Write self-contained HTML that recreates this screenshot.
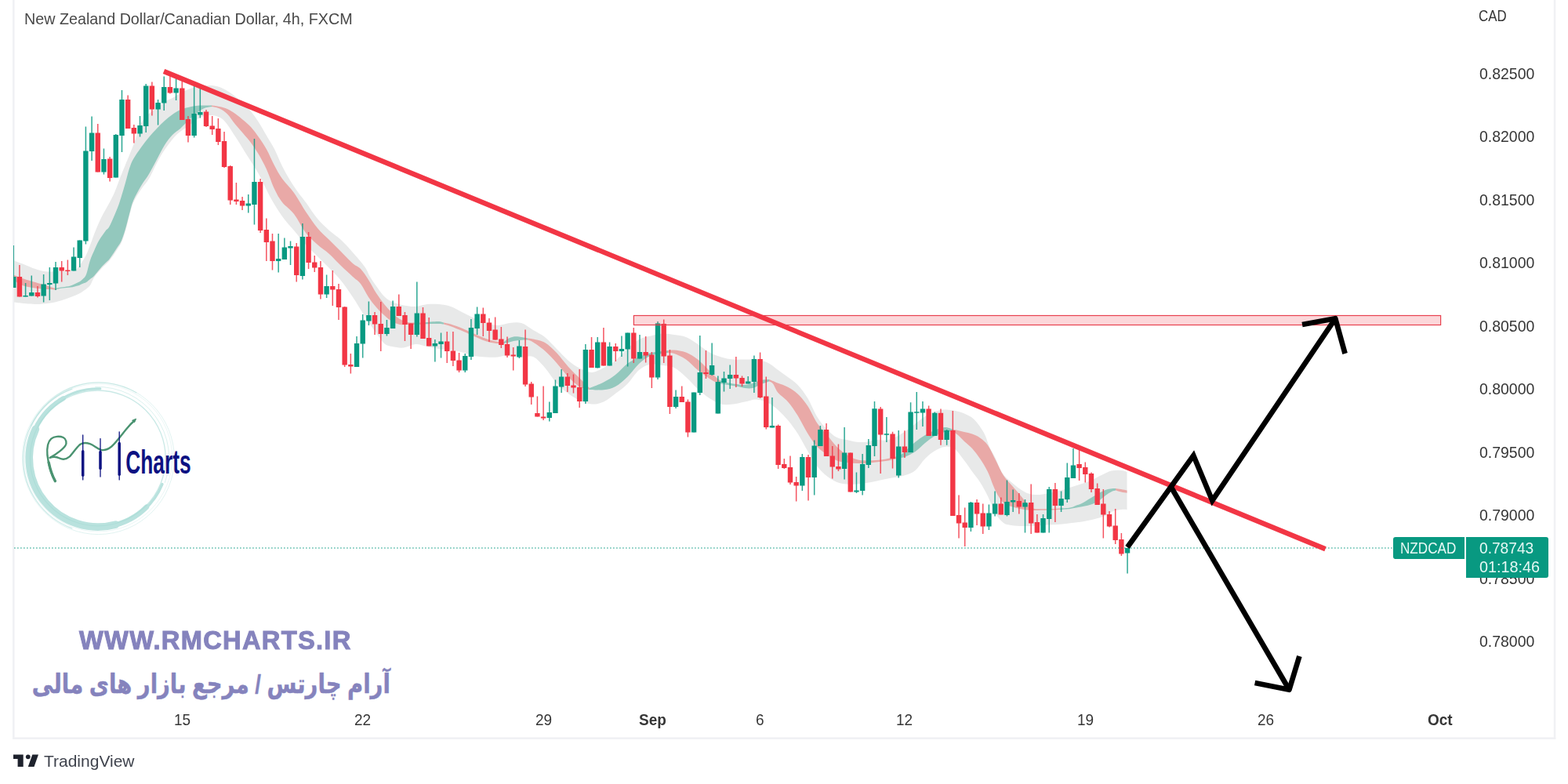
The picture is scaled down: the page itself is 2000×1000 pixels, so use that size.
<!DOCTYPE html>
<html lang="en"><head><meta charset="utf-8"><title>NZDCAD 4h chart</title>
<style>
html,body{margin:0;padding:0;background:#fff}
body{width:2000px;height:1000px;position:relative;overflow:hidden;font-family:"Liberation Sans",sans-serif}
svg{position:absolute;left:0;top:0;display:block}
.t{position:absolute;white-space:nowrap;line-height:1;margin:0;padding:0;transform-origin:0 50%}
.bx{position:absolute;background:#089981}
</style></head><body>
<svg width="2000" height="1000" viewBox="0 0 2000 1000">
<g id="frame" fill="#f0f1f4">
<rect x="16" y="0" width="2.6" height="942.6"/>
<rect x="1981.8" y="0" width="2.5" height="942.8"/>
<rect x="16" y="940.4" width="1968.3" height="2.6"/>
</g>
<g id="rmlogo">
<g fill="none" stroke="#a6dbd5" stroke-linecap="round">
<circle cx="124.8" cy="584.4" r="86.4" stroke-width="1.3" opacity=".6"/>
<g opacity=".78">
<path d="M147.47 669.02A87.6 87.6 0 0 1 45.41 547.38" stroke-width="9.6" opacity="1"/>
<path d="M187.03 646.63A88 88 0 0 1 140.08 671.06" stroke-width="6.4" opacity="1"/>
<path d="M42.11 554.3A88 88 0 0 1 80.8 508.19" stroke-width="6.0" opacity="1"/>
<path d="M206.95 617.59A88.6 88.6 0 0 1 184.08 650.24" stroke-width="3.4" opacity="1"/>
<path d="M75.26 510.95A88.6 88.6 0 0 1 127.89 495.85" stroke-width="3.0" opacity="1"/>
</g>
<path d="M91.94 673.89A94.6 94.6 0 0 1 91.94 496.11" stroke-width="1.2" opacity="0.6"/>
<path d="M121.62 493.46A91 91 0 0 1 210.31 615.52" stroke-width="1.0" opacity="0.4"/>
<circle cx="125.6" cy="583.8" r="94.2" stroke-width=".8" opacity=".3"/>
<circle cx="125.4" cy="584.6" r="97" stroke-width=".9" opacity=".38"/>
<path d="M39.45 543.14A95.5 95.5 0 0 1 173.75 500.79" stroke-width="1.2" opacity="0.5"/>
</g>
<path d="M70.3 613.5C66 606 62 594 60.4 580.5C59.6 571 61.5 563 65.3 559.6C69 556.6 76 556 80.7 558C84.6 560 85.5 565 83.4 568.4C81 572 73 579 63.6 583.8C67 582.6 72 582.5 76 584.5C80 586.6 84.5 586 88.4 582.7C92 579.5 96 572.5 101.6 567.3C105 564.5 110 564.6 114.8 566.2C120 568 124 572.5 129.1 573.9C134 574.8 138.5 572.6 142.3 569.5C148 564.5 156 553.5 161 547.5C165 542.5 169 538.5 172 536" fill="none" stroke="#4a9371" stroke-width="2.4" stroke-linecap="round" stroke-linejoin="round"/>
<path d="M70.4 613.6C67 607.5 64 599 62.2 590" fill="none" stroke="#4a9371" stroke-width="3.4" stroke-linecap="round"/>
<path d="M173.6 534.2L168.6 536.2L171.4 539Z" fill="#4a9371" stroke="#4a9371" stroke-width="1" stroke-linejoin="round"/>
<g stroke="#0d1282" stroke-linecap="round">
<line x1="105.7" y1="555" x2="105.7" y2="611.9" stroke-width="1.3"/>
<line x1="105.7" y1="575.8" x2="105.7" y2="606.2" stroke-width="3.5"/>
<line x1="128" y1="559.6" x2="128" y2="608" stroke-width="1.3"/>
<line x1="128" y1="576.4" x2="128" y2="597.4" stroke-width="3.5"/>
<line x1="152.2" y1="550.8" x2="152.2" y2="611.9" stroke-width="1.3"/>
<line x1="152.2" y1="565.4" x2="152.2" y2="605.2" stroke-width="3.5"/>
</g>
<text x="160.3" y="603.9" font-family="'Liberation Sans',sans-serif" font-weight="700" font-size="43" fill="#0d1282" textLength="83.3" lengthAdjust="spacingAndGlyphs">Charts</text>
</g>
<defs><filter id="bl" x="-2%" y="-5%" width="104%" height="110%"><feGaussianBlur stdDeviation="0.7"/></filter></defs>
<g id="ribbon" filter="url(#bl)">
<path d="M18 332.5C20 333.25 25.5 335.25 30 337C34.5 338.75 40 341.42 45 343C50 344.58 55 346 60 346.5C65 347 70 346.08 75 346C80 345.92 86.5 346.25 90 346C93.5 345.75 94 345.83 96 344.5C98 343.17 99.67 341.25 102 338C104.33 334.75 107.67 329.67 110 325C112.33 320.33 114.33 314.33 116 310C117.67 305.67 118 304 120 299C122 294 125.33 285.67 128 280C130.67 274.33 133.17 270.33 136 265C138.83 259.67 142.33 253.83 145 248C147.67 242.17 149.5 236.33 152 230C154.5 223.67 157.83 215.33 160 210C162.17 204.67 163 203 165 198C167 193 169.5 186.83 172 180C174.5 173.17 177 162.83 180 157C183 151.17 186.67 148.17 190 145C193.33 141.83 196.67 140.5 200 138C203.33 135.5 206.67 132.17 210 130C213.33 127.83 216.67 126.83 220 125C223.33 123.17 226.67 120.83 230 119C233.33 117.17 236.67 115.33 240 114C243.33 112.67 246.67 111.75 250 111C253.33 110.25 256.67 109.83 260 109.5C263.33 109.17 266.67 108.75 270 109C273.33 109.25 276.67 109.83 280 111C283.33 112.17 286.67 114 290 116C293.33 118 296.67 120.33 300 123C303.33 125.67 306.67 128.83 310 132C313.33 135.17 316.67 138 320 142C323.33 146 326.67 150.83 330 156C333.33 161.17 336.67 167.33 340 173C343.33 178.67 346.67 183.5 350 190C353.33 196.5 356.67 205.33 360 212C363.33 218.67 366.67 224.5 370 230C373.33 235.5 376.67 240.33 380 245C383.33 249.67 385.83 252.33 390 258C394.17 263.67 400 273 405 279C410 285 415 289.5 420 294C425 298.5 430 301.33 435 306C440 310.67 445 316.33 450 322C455 327.67 461.33 334.83 465 340C468.67 345.17 469.5 348.83 472 353C474.5 357.17 477 360.83 480 365C483 369.17 486.67 374.67 490 378C493.33 381.33 495.83 383.08 500 385C504.17 386.92 510 388.5 515 389.5C520 390.5 525 391.25 530 391C535 390.75 540 388.5 545 388C550 387.5 555 387.5 560 388C565 388.5 570 389.25 575 391C580 392.75 585 396 590 398.5C595 401 600 403.75 605 406C610 408.25 615 410.5 620 412C625 413.5 630 415 635 415C640 415 645 412.5 650 412C655 411.5 660 410.5 665 412C670 413.5 675 418 680 421C685 424 690 426 695 430C700 434 705 440 710 445C715 450 720 455.83 725 460C730 464.17 735 467.5 740 470C745 472.5 750 475.17 755 475C760 474.83 765 471.5 770 469C775 466.5 780 464 785 460C790 456 795 449.5 800 445C805 440.5 810 435.75 815 433C820 430.25 825 429.75 830 428.5C835 427.25 840 425.75 845 425.5C850 425.25 855 426.25 860 427C865 427.75 870 428 875 430C880 432 885 435.75 890 439C895 442.25 900 446.75 905 449.5C910 452.25 915 454 920 455.5C925 457 930 458 935 458.5C940 459 945 458.5 950 458.5C955 458.5 960 457.75 965 458.5C970 459.25 975.42 460.75 980 463C984.58 465.25 988.33 469 992.5 472C996.67 475 1000.83 477.83 1005 481C1009.17 484.17 1013.33 486.58 1017.5 491C1021.67 495.42 1025.83 500.67 1030 507.5C1034.17 514.33 1038.33 525.25 1042.5 532C1046.67 538.75 1050.83 543.67 1055 548C1059.17 552.33 1063.33 555.83 1067.5 558C1071.67 560.17 1075.83 560.04 1080 561C1084.17 561.96 1088.33 563.29 1092.5 563.75C1096.67 564.21 1100.83 564.21 1105 563.75C1109.17 563.29 1113.33 561.38 1117.5 561C1121.67 560.62 1125.83 562.08 1130 561.5C1134.17 560.92 1138.33 559.42 1142.5 557.5C1146.67 555.58 1150.83 552.83 1155 550C1159.17 547.17 1163.33 543.67 1167.5 540.5C1171.67 537.33 1175.83 533.58 1180 531C1184.17 528.42 1188.33 526.42 1192.5 525C1196.67 523.58 1200.83 522.71 1205 522.5C1209.17 522.29 1213.33 522.92 1217.5 523.75C1221.67 524.58 1225.83 525.62 1230 527.5C1234.17 529.38 1238.33 530.92 1242.5 535C1246.67 539.08 1251.75 546.17 1255 552C1258.25 557.83 1259.5 564.5 1262 570C1264.5 575.5 1267.33 579.5 1270 585C1272.67 590.5 1274.67 598 1278 603C1281.33 608 1286.33 611.67 1290 615C1293.67 618.33 1296.67 620.67 1300 623C1303.33 625.33 1306.67 627.67 1310 629C1313.33 630.33 1316.67 630.75 1320 631C1323.33 631.25 1326.25 631 1330 630.5C1333.75 630 1338.33 628.92 1342.5 628C1346.67 627.08 1350.83 626.17 1355 625C1359.17 623.83 1363.33 622.33 1367.5 621C1371.67 619.67 1375.83 618.42 1380 617C1384.17 615.58 1388.33 614.33 1392.5 612.5C1396.67 610.67 1400.83 608 1405 606C1409.17 604 1413.33 601.5 1417.5 600.5C1421.67 599.5 1426.67 599.75 1430 600C1433.33 600.25 1436.25 601.67 1437.5 602L1437.5 650C1436.25 650 1432.92 649.67 1430 650C1427.08 650.33 1422.83 651 1420 652C1417.17 653 1415.5 654.75 1413 656C1410.5 657.25 1408.42 658.33 1405 659.5C1401.58 660.67 1396.67 662 1392.5 663C1388.33 664 1384.17 664.83 1380 665.5C1375.83 666.17 1371.67 666.5 1367.5 667C1363.33 667.5 1359.17 668.12 1355 668.5C1350.83 668.88 1346.67 669.05 1342.5 669.3C1338.33 669.55 1334.17 669.75 1330 670C1325.83 670.25 1321.67 670.63 1317.5 670.8C1313.33 670.97 1309.58 671.13 1305 671C1300.42 670.87 1294.17 670.67 1290 670C1285.83 669.33 1283.33 669.5 1280 667C1276.67 664.5 1273.33 660.67 1270 655C1266.67 649.33 1263.33 639.67 1260 633C1256.67 626.33 1253.33 620.25 1250 615C1246.67 609.75 1243.33 606.08 1240 601.5C1236.67 596.92 1233.75 592.33 1230 587.5C1226.25 582.67 1221.67 575.42 1217.5 572.5C1213.33 569.58 1209.17 569.58 1205 570C1200.83 570.42 1196.67 572.5 1192.5 575C1188.33 577.5 1184.17 580.83 1180 585C1175.83 589.17 1171.67 596.5 1167.5 600C1163.33 603.5 1159.17 604.54 1155 606C1150.83 607.46 1146.67 607.92 1142.5 608.75C1138.33 609.58 1134.17 610.17 1130 611C1125.83 611.83 1121.67 612.92 1117.5 613.75C1113.33 614.58 1109.17 615.38 1105 616C1100.83 616.62 1096.67 617.25 1092.5 617.5C1088.33 617.75 1084.17 617.92 1080 617.5C1075.83 617.08 1071.67 616.67 1067.5 615C1063.33 613.33 1059.17 610.83 1055 607.5C1050.83 604.17 1046.67 600.42 1042.5 595C1038.33 589.58 1034.17 582 1030 575C1025.83 568 1021.67 559.5 1017.5 553C1013.33 546.5 1009.17 541 1005 536C1000.83 531 996.67 526.67 992.5 523C988.33 519.33 984.58 516.25 980 514C975.42 511.75 970 509.75 965 509.5C960 509.25 955 511.5 950 512.5C945 513.5 940 515 935 515.5C930 516 925 516.75 920 515.5C915 514.25 910 511.25 905 508C900 504.75 895 500.5 890 496C885 491.5 880 485.5 875 481C870 476.5 865 471.5 860 469C855 466.5 850 466.75 845 466C840 465.25 835 463.5 830 464.5C825 465.5 820 467.75 815 472C810 476.25 805 485 800 490C795 495 790 498.25 785 502C780 505.75 775 510.25 770 512.5C765 514.75 760 515.75 755 515.5C750 515.25 745 513.25 740 511C735 508.75 730 505.67 725 502C720 498.33 715 494.5 710 489C705 483.5 700 474.67 695 469C690 463.33 685 457.25 680 455C675 452.75 670 455.92 665 455.5C660 455.08 655 452.5 650 452.5C645 452.5 640 455 635 455.5C630 456 625 455.75 620 455.5C615 455.25 610 455 605 454C600 453 595 450.75 590 449.5C585 448.25 580 447.25 575 446.5C570 445.75 565 445.75 560 445C555 444.25 550 443 545 442C540 441 535 438.75 530 439C525 439.25 520 443 515 443.5C510 444 504.17 442.92 500 442C495.83 441.08 493.33 440.83 490 438C486.67 435.17 484.17 430.83 480 425C475.83 419.17 470 410.67 465 403C460 395.33 455 386.5 450 379C445 371.5 440 364.17 435 358C430 351.83 425 347.17 420 342C415 336.83 410 332 405 327C400 322 395 317.5 390 312C385 306.5 380 300 375 294C370 288 365 283 360 276C355 269 350 261 345 252C340 243 335 231 330 222C325 213 320 206 315 198C310 190 305 181.5 300 174C295 166.5 290 157.5 285 153C280 148.5 275 147.5 270 147C265 146.5 260 147.67 255 150C250 152.33 245 157.33 240 161C235 164.67 230 167 225 172C220 177 214.17 185 210 191C205.83 197 203.33 201.83 200 208C196.67 214.17 193.33 222.42 190 228C186.67 233.58 183.33 236.42 180 241.5C176.67 246.58 172.5 252.83 170 258.5C167.5 264.17 166.67 269.5 165 275.5C163.33 281.5 161.67 288.92 160 294.5C158.33 300.08 156.67 305.17 155 309C153.33 312.83 152.5 313.67 150 317.5C147.5 321.33 143.33 327.92 140 332C136.67 336.08 133.33 338.33 130 342C126.67 345.67 122.5 350.33 120 354C117.5 357.67 117 361.33 115 364C113 366.67 110.5 368.17 108 370C105.5 371.83 103.83 373.17 100 375C96.17 376.83 90 379.25 85 381C80 382.75 75 384.42 70 385.5C65 386.58 59.17 387.08 55 387.5C50.83 387.92 49.17 388.08 45 388C40.83 387.92 34.5 387.42 30 387C25.5 386.58 20 385.75 18 385.5Z" fill="#e8e9e9"/>
<path d="M18 351C20 351.75 25.5 354 30 355.5C34.5 357 40 358.5 45 360C50 361.5 55.5 363.08 60 364.5C64.5 365.92 70 367.83 72 368.5L72 369.5C70 369.42 64.5 369.33 60 369C55.5 368.67 50 368.25 45 367.5C40 366.75 34.5 366.08 30 364.5C25.5 362.92 20 359.08 18 358Z" fill="#e9a9a7"/>
<path d="M72 367.5C73.33 367.3 77 366.8 80 366.3C83 365.8 86.67 365.55 90 364.5C93.33 363.45 97.5 361.33 100 360C102.5 358.67 103.33 358.17 105 356.5C106.67 354.83 108.33 354.08 110 350C111.67 345.92 113.33 337 115 332C116.67 327 118.33 323.83 120 320C121.67 316.17 123.33 312.17 125 309C126.67 305.83 128.33 303.5 130 301C131.67 298.5 133.33 296.17 135 294C136.67 291.83 137.5 292.83 140 288C142.5 283.17 147.5 271.33 150 265C152.5 258.67 153.33 255.33 155 250C156.67 244.67 158.33 238.83 160 233C161.67 227.17 163.33 220 165 215C166.67 210 167.5 207.5 170 203C172.5 198.5 176.67 192.67 180 188C183.33 183.33 186.67 179 190 175C193.33 171 196.67 167.5 200 164C203.33 160.5 206.67 157 210 154C213.33 151 216.67 148.33 220 146C223.33 143.67 226.67 141.5 230 140C233.33 138.5 236.67 137.83 240 137C243.33 136.17 246.67 135.42 250 135C253.33 134.58 256.67 134.57 260 134.5C263.33 134.43 268.33 134.58 270 134.6L270 136C268.33 136.38 263.33 136.8 260 138.3C256.67 139.8 253.33 142.38 250 145C246.67 147.62 243.33 150.83 240 154C236.67 157.17 233.33 161 230 164C226.67 167 223.33 168.5 220 172C216.67 175.5 213.33 179.75 210 185C206.67 190.25 203.33 197.33 200 203.5C196.67 209.67 193.33 216.42 190 222C186.67 227.58 183.33 231.33 180 237C176.67 242.67 172.5 250 170 256C167.5 262 166.67 267 165 273C163.33 279 161.67 286.38 160 292C158.33 297.62 156.67 302.87 155 306.7C153.33 310.53 152.5 311.12 150 315C147.5 318.88 142.5 326.67 140 330C137.5 333.33 136.67 333.33 135 335C133.33 336.67 131.67 338.17 130 340C128.33 341.83 126.67 344 125 346C123.33 348 121.67 350.33 120 352C118.33 353.67 116.67 354.67 115 356C113.33 357.33 111.67 359 110 360C108.33 361 106.67 361.3 105 362C103.33 362.7 102.5 363.43 100 364.2C97.5 364.97 93.33 366.03 90 366.6C86.67 367.17 83 367.2 80 367.6C77 368 73.33 368.77 72 369Z" fill="#93c8bd"/>
<path d="M270 134.6C271.67 134.83 276.67 135.27 280 136C283.33 136.73 286.67 137.5 290 139C293.33 140.5 296.67 142.67 300 145C303.33 147.33 306.67 150.17 310 153C313.33 155.83 316.67 158.33 320 162C323.33 165.67 326.67 170.25 330 175C333.33 179.75 336.67 184.5 340 190.5C343.33 196.5 346.67 204.75 350 211C353.33 217.25 355.83 222.17 360 228C364.17 233.83 370 239 375 246C380 253 385 262.5 390 270C395 277.5 400 285 405 291C410 297 415 301 420 306C425 311 430 316 435 321C440 326 445.83 332.33 450 336C454.17 339.67 456.67 339.5 460 343C463.33 346.5 466.67 351.83 470 357C473.33 362.17 476.67 368.83 480 374C483.33 379.17 486.67 383.83 490 388C493.33 392.17 496.67 395.83 500 399C503.33 402.17 506.67 405 510 407C513.33 409 516.67 410.25 520 411C523.33 411.75 526.67 411.42 530 411.5C533.33 411.58 538.33 411.5 540 411.5L540 413.5C538.33 413.58 533.33 413.92 530 414C526.67 414.08 523.33 414 520 414C516.67 414 513.33 414.67 510 414C506.67 413.33 503.33 412 500 410C496.67 408 493.33 405 490 402C486.67 399 483.33 395.83 480 392C476.67 388.17 473.33 384 470 379C466.67 374 463.33 366.33 460 362C456.67 357.67 454.17 356.83 450 353C445.83 349.17 440 343.83 435 339C430 334.17 425 328.5 420 324C415 319.5 410 316.5 405 312C400 307.5 395 303.5 390 297C385 290.5 380 279.5 375 273C370 266.5 364.17 263.33 360 258C355.83 252.67 353.33 248 350 241C346.67 234 343.33 223.33 340 216C336.67 208.67 333.33 202.67 330 197C326.67 191.33 323.33 186.5 320 182C316.67 177.5 313.33 173.92 310 170C306.67 166.08 303.33 162.58 300 158.5C296.67 154.42 293.33 148.83 290 145.5C286.67 142.17 283.33 140.08 280 138.5C276.67 136.92 271.67 136.42 270 136Z" fill="#e9a9a7"/>
<path d="M540 411.5C541.67 411.33 546.67 410.75 550 410.5C553.33 410.25 557.33 409.83 560 410C562.67 410.17 565 411.25 566 411.5L566 413.5C565 413.42 562.67 413.08 560 413C557.33 412.92 553.33 412.92 550 413C546.67 413.08 541.67 413.42 540 413.5Z" fill="#93c8bd"/>
<path d="M566 411.5C567.5 411.83 571 412.25 575 413.5C579 414.75 585.83 417.33 590 419C594.17 420.67 596.67 422 600 423.5C603.33 425 606.67 426.58 610 428C613.33 429.42 616.67 430.83 620 432C623.33 433.17 626.67 434.25 630 435C633.33 435.75 637.83 436.33 640 436.5C642.17 436.67 642.5 436.08 643 436L643 438C642.5 438.1 642.17 438.67 640 438.6C637.83 438.53 633.33 438.17 630 437.6C626.67 437.03 623.33 436.27 620 435.2C616.67 434.13 613.33 432.62 610 431.2C606.67 429.78 603.33 428.2 600 426.7C596.67 425.2 594.17 423.95 590 422.2C585.83 420.45 579 417.65 575 416.2C571 414.75 567.5 413.95 566 413.5Z" fill="#e9a9a7"/>
<path d="M643 436C643.83 435.33 646 433.08 648 432C650 430.92 652.67 429.92 655 429.5C657.33 429.08 659.83 429.33 662 429.5C664.17 429.67 666.17 430.17 668 430.5C669.83 430.83 672.17 431.33 673 431.5L673 433.5C672.17 433.5 669.83 433.42 668 433.5C666.17 433.58 664.17 433.75 662 434C659.83 434.25 657.33 434.5 655 435C652.67 435.5 650 436.5 648 437C646 437.5 643.83 437.83 643 438Z" fill="#93c8bd"/>
<path d="M673 431.5C674.17 431.67 676.33 431.58 680 432.5C683.67 433.42 690 434.08 695 437C700 439.92 705 444.83 710 450C715 455.17 720 462.5 725 468C730 473.5 735.5 478.5 740 483C744.5 487.5 750 493 752 495L752 497C750 496.42 744.5 496.17 740 493.5C735.5 490.83 730 486.08 725 481C720 475.92 715 468.58 710 463C705 457.42 700 451.92 695 447.5C690 443.08 683.67 438.83 680 436.5C676.33 434.17 674.17 434 673 433.5Z" fill="#e9a9a7"/>
<path d="M752 495C755 493.75 764.5 490.33 770 487.5C775.5 484.67 780 481.92 785 478C790 474.08 795 467.75 800 464C805 460.25 810 457.83 815 455.5C820 453.17 825 451.25 830 450C835 448.75 841.33 448.5 845 448C848.67 447.5 850.83 447.17 852 447L852 450C850.83 450.17 848.67 450.42 845 451C841.33 451.58 835 451.33 830 453.5C825 455.67 820 459.42 815 464C810 468.58 805 476.17 800 481C795 485.83 790 490.28 785 493C780 495.72 775.5 496.63 770 497.3C764.5 497.97 755 497.05 752 497Z" fill="#93c8bd"/>
<path d="M852 447C853.33 446.92 856.17 446.08 860 446.5C863.83 446.92 870 447.5 875 449.5C880 451.5 885 454.58 890 458.5C895 462.42 901.33 469.42 905 473C908.67 476.58 909.83 478 912 480C914.17 482 917 484.17 918 485L918 489C917 488.67 914.17 488 912 487C909.83 486 908.67 485.5 905 483C901.33 480.5 895 476.08 890 472C885 467.92 880 462 875 458.5C870 455 863.83 452.42 860 451C856.17 449.58 853.33 450.17 852 450Z" fill="#e9a9a7"/>
<path d="M918 485C920 485.58 926.33 487.67 930 488.5C933.67 489.33 936.67 489.58 940 490C943.33 490.42 946.67 491.17 950 491C953.33 490.83 956.67 490 960 489C963.33 488 966.5 485.83 970 485C973.5 484.17 979.17 484.17 981 484L981 486.5C979.17 487.17 973.5 489.08 970 490.5C966.5 491.92 963.33 494.25 960 495C956.67 495.75 953.33 495.37 950 495C946.67 494.63 943.33 493.43 940 492.8C936.67 492.17 933.67 491.83 930 491.2C926.33 490.57 920 489.37 918 489Z" fill="#93c8bd"/>
<path d="M981 484C981.83 484.33 984.08 485.21 986 486C987.92 486.79 989.33 487.46 992.5 488.75C995.67 490.04 1000.83 491.46 1005 493.75C1009.17 496.04 1013.33 498.54 1017.5 502.5C1021.67 506.46 1025.83 511.25 1030 517.5C1034.17 523.75 1038.33 533.75 1042.5 540C1046.67 546.25 1050.83 550 1055 555C1059.17 560 1063.33 565.83 1067.5 570C1071.67 574.17 1075.83 577.33 1080 580C1084.17 582.67 1088.33 584.75 1092.5 586C1096.67 587.25 1100.83 587.33 1105 587.5C1109.17 587.67 1113.33 587.33 1117.5 587C1121.67 586.67 1125.83 586.25 1130 585.5C1134.17 584.75 1139.5 583.25 1142.5 582.5C1145.5 581.75 1147.08 581.25 1148 581L1148 584C1147.08 584.25 1145.5 584.83 1142.5 585.5C1139.5 586.17 1134.17 587.33 1130 588C1125.83 588.67 1121.67 589 1117.5 589.5C1113.33 590 1109.17 590.75 1105 591C1100.83 591.25 1096.67 591.17 1092.5 591C1088.33 590.83 1084.17 590.58 1080 590C1075.83 589.42 1071.67 589.17 1067.5 587.5C1063.33 585.83 1059.17 582.92 1055 580C1050.83 577.08 1046.67 574.58 1042.5 570C1038.33 565.42 1034.17 559.17 1030 552.5C1025.83 545.83 1021.67 536.67 1017.5 530C1013.33 523.33 1009.17 517.33 1005 512.5C1000.83 507.67 995.67 504.83 992.5 501C989.33 497.17 987.92 491.92 986 489.5C984.08 487.08 981.83 487 981 486.5Z" fill="#e9a9a7"/>
<path d="M1148 581C1149.17 580 1151.75 577.88 1155 575C1158.25 572.12 1163.33 567.08 1167.5 563.75C1171.67 560.42 1175.83 557.5 1180 555C1184.17 552.5 1188.33 550.42 1192.5 548.75C1196.67 547.08 1201.25 545.21 1205 545C1208.75 544.79 1213.33 547.08 1215 547.5L1215 550C1213.33 550.17 1208.75 550 1205 551C1201.25 552 1196.67 553.67 1192.5 556C1188.33 558.33 1184.17 561.67 1180 565C1175.83 568.33 1171.67 573.08 1167.5 576C1163.33 578.92 1158.25 581.17 1155 582.5C1151.75 583.83 1149.17 583.75 1148 584Z" fill="#93c8bd"/>
<path d="M1215 547.5C1216.17 547.75 1219.5 548.42 1222 549C1224.5 549.58 1227 550.25 1230 551C1233 551.75 1236.67 552.25 1240 553.5C1243.33 554.75 1246.67 556.08 1250 558.5C1253.33 560.92 1256.67 563.25 1260 568C1263.33 572.75 1266.67 580.58 1270 587C1273.33 593.42 1276.67 601.25 1280 606.5C1283.33 611.75 1286.67 614.58 1290 618.5C1293.33 622.42 1296.67 626.08 1300 630C1303.33 633.92 1307 638.92 1310 642C1313 645.08 1314.67 647.28 1318 648.5C1321.33 649.72 1325.92 649.22 1330 649.3C1334.08 649.38 1338.83 649.13 1342.5 649C1346.17 648.87 1350.42 648.58 1352 648.5L1352 650C1350.42 650.07 1346.17 650.27 1342.5 650.4C1338.83 650.53 1334.08 650.7 1330 650.8C1325.92 650.9 1321.33 651.05 1318 651C1314.67 650.95 1313 650.88 1310 650.5C1307 650.12 1303.33 649.45 1300 648.7C1296.67 647.95 1293.33 647.2 1290 646C1286.67 644.8 1283.33 644.75 1280 641.5C1276.67 638.25 1273.33 633.08 1270 626.5C1266.67 619.92 1263.33 608.92 1260 602C1256.67 595.08 1253.33 590 1250 585C1246.67 580 1243.33 575.67 1240 572C1236.67 568.33 1233 565.83 1230 563C1227 560.17 1224.5 557.17 1222 555C1219.5 552.83 1216.17 550.83 1215 550Z" fill="#e9a9a7"/>
<path d="M1352 648.5C1354.17 648.33 1361.67 648.08 1365 647.5C1368.33 646.92 1369.5 645.92 1372 645C1374.5 644.08 1377 643.5 1380 642C1383 640.5 1386.67 638 1390 636C1393.33 634 1396.67 631.83 1400 630C1403.33 628.17 1407 626.13 1410 625C1413 623.87 1415.83 623.53 1418 623.2C1420.17 622.87 1422.17 623.03 1423 623L1423 625.5C1422.17 625.75 1420.17 625.92 1418 627C1415.83 628.08 1413 629.83 1410 632C1407 634.17 1403.33 638 1400 640C1396.67 642 1393.33 642.97 1390 644C1386.67 645.03 1383 645.57 1380 646.2C1377 646.83 1374.5 647.35 1372 647.8C1369.5 648.25 1368.33 648.53 1365 648.9C1361.67 649.27 1354.17 649.82 1352 650Z" fill="#93c8bd"/>
<path d="M1423 623C1424.17 623.17 1427.58 623.58 1430 624C1432.42 624.42 1436.25 625.25 1437.5 625.5L1437.5 628.75C1436.25 628.54 1432.42 628.04 1430 627.5C1427.58 626.96 1424.17 625.83 1423 625.5Z" fill="#e9a9a7"/>
</g>
<defs><clipPath id="cl"><rect x="17" y="0" width="1964" height="940"/></clipPath></defs>
<g id="candles" clip-path="url(#cl)">
<path d="M17.24 313V367M32.6 361V378.6M40.28 351.6V377.6M55.64 350V385.6M63.32 341V383M71 334V370M94.04 315.6V345.6M101.72 306.4V341M109.4 161.6V311.6M117.08 148.4V205M132.44 189.6V222.4M147.8 171V226.4M155.48 115V194M178.52 148V174.4M186.2 107V169M201.56 127V159.6M209.24 97.6V141M224.6 100V128M247.64 110V175.6M255.32 113V150.4M316.76 248V271.6M324.44 177V286.4M355.16 298V347.6M362.84 303.6V331M370.52 307.6V338M385.88 285V356.4M416.6 350.4V380M455 429V468M462.68 401V456.4M470.36 384.4V415M493.4 408V428.4M501.08 383.6V419M531.8 359.6V429.6M554.84 433V461.6M562.52 424.4V456.4M593.24 451V475M600.92 407V459M608.6 391.6V427M662.36 434V457M700.76 512.4V537.6M708.44 484.4V527M716.12 471V501M746.84 439V515M762.2 430V469.6M777.56 436.5V466.4M792.92 428.4V455M800.6 424.4V467.6M815.96 427V457.6M839 410V484M862.04 497.6V521M885.08 500.4V551.6M892.76 428V504M908.12 437.6V479M915.8 479.6V527.6M923.48 474V499.6M931.16 465.6V496M954.2 480V489.4M961.88 453.6V501M984.92 507V545.6M1023.32 579V626M1038.68 561.6V631.6M1046.36 543V569M1077.08 545V611.6M1092.44 602.4V629M1100.12 579V631.6M1107.8 560V597M1115.48 512V582M1130.84 532V564M1146.2 549V609.6M1161.56 513.3V577M1169.24 500V548M1176.92 512V544M1192.28 525.6V556M1207.64 548V567.8M1238.36 640V678M1261.4 643.6V676M1269.08 626.4V658.4M1284.44 612.4V658.4M1292.12 624.4V653M1307.48 637V679.6M1330.52 656V679.6M1338.2 621V679.6M1353.56 626.4V653M1361.24 590.4V641M1368.92 572V610M1438.04 699V731.6" stroke="#089981" stroke-width="1.5" fill="none" opacity=".85"/>
<path d="M24.92 338V378.6M47.96 365V379.6M78.68 333V359.6M86.36 331.6V351M124.76 158V219.6M140.12 200V231.6M163.16 121.6V164M170.84 159V182.4M193.88 104.4V147.6M216.92 96V119.6M232.28 103.6V153M239.96 148V181.6M263 140V162M270.68 148V172M278.36 151V185M286.04 168V214M293.72 211V261M301.4 233V261M309.08 251V268M332.12 228V297M339.8 278.4V333M347.48 298V344.4M378.2 310V359.6M393.56 296V343M401.24 326V347M408.92 333V381.6M424.28 345V390M431.96 362V408M439.64 391V468M447.32 451V476.4M478.04 398V427M485.72 385V448M508.76 375.6V403M516.44 398V435M524.12 412.4V445M539.48 392V432M547.16 405V441.6M570.2 423V463M577.88 423V467M585.56 450V475M616.28 392.4V429M623.96 406V436M631.64 404.4V433.6M639.32 417V444M647 429.6V456M654.68 443V472.4M670.04 420.4V493M677.72 487V516M685.4 505.6V531.6M693.08 492.4V536M723.8 476V500M731.48 477.6V501.6M739.16 471V520M754.52 430V469M769.88 418V466.4M785.24 438V461M808.28 418V463M823.64 429V462.4M831.32 449V495M846.68 407.6V463M854.36 446V528M869.72 492.4V513M877.4 509.6V557.6M900.44 447V483M938.84 455V494M946.52 479.6V493M969.56 449.6V508M977.24 480.4V547.6M992.6 541.6V598M1000.28 585V598M1007.96 581.6V618M1015.64 608V639.6M1031 580V638.4M1054.04 540V582M1061.72 569V610.4M1069.4 566.4V601M1084.76 577.6V627.4M1123.16 519V604M1138.52 550.7V597.6M1153.88 549.3V584M1184.6 517.6V556M1199.96 521.6V567.8M1215.32 524V658M1223 631.6V686.4M1230.68 647.6V697M1246.04 637V670M1253.72 642.4V681M1276.76 634.4V656.4M1299.8 629V655.6M1315.16 617.6V681M1322.84 656V679.6M1345.88 616V666M1376.6 573.6V613M1384.28 589.6V615.6M1391.96 602.4V628M1399.64 616.4V644M1407.32 624V686.4M1415 652V672.4M1422.68 649V694M1430.36 680V709" stroke="#f23645" stroke-width="1.5" fill="none" opacity=".85"/>
<path d="M14.04 353h6.4v14h-6.4ZM29.4 377h6.4v1.6h-6.4ZM37.08 373h6.4v4.6h-6.4ZM52.44 362.4h6.4v15.2h-6.4ZM60.12 361h6.4v2h-6.4ZM67.8 341h6.4v20.6h-6.4ZM90.84 327.6h6.4v18h-6.4ZM98.52 306.4h6.4v22.6h-6.4ZM106.2 192.4h6.4v115.2h-6.4ZM113.88 169.6h6.4v23.4h-6.4ZM129.24 203h6.4v16.6h-6.4ZM144.6 172h6.4v54.4h-6.4ZM152.28 127h6.4v46h-6.4ZM175.32 160h6.4v10.4h-6.4ZM183 109.6h6.4v51.4h-6.4ZM198.36 131h6.4v8.6h-6.4ZM206.04 111h6.4v20.6h-6.4ZM221.4 112.4h6.4v6h-6.4ZM244.44 145h6.4v28h-6.4ZM252.12 143h6.4v3.4h-6.4ZM313.56 259.6h6.4v2.8h-6.4ZM321.24 232h6.4v29h-6.4ZM351.96 330h6.4v3h-6.4ZM359.64 315.6h6.4v15.4h-6.4ZM367.32 314h6.4v2.4h-6.4ZM382.68 302h6.4v50h-6.4ZM413.4 365h6.4v10.6h-6.4ZM451.8 438h6.4v30h-6.4ZM459.48 408.4h6.4v30.2h-6.4ZM467.16 402h6.4v7.6h-6.4ZM490.2 418h6.4v8h-6.4ZM497.88 391h6.4v28h-6.4ZM528.6 399.6h6.4v27.4h-6.4ZM551.64 438h6.4v3.6h-6.4ZM559.32 435.6h6.4v3.4h-6.4ZM590.04 454h6.4v18.4h-6.4ZM597.72 418h6.4v37h-6.4ZM605.4 400.4h6.4v18.6h-6.4ZM659.16 441.6h6.4v14h-6.4ZM697.56 526h6.4v7h-6.4ZM705.24 492.4h6.4v34.6h-6.4ZM712.92 480.4h6.4v13.2h-6.4ZM743.64 446h6.4v66h-6.4ZM759 436.5h6.4v32.8h-6.4ZM774.36 442h6.4v24.4h-6.4ZM789.72 445h6.4v3h-6.4ZM797.4 424.4h6.4v21.2h-6.4ZM812.76 449h6.4v8.6h-6.4ZM835.8 412.4h6.4v69.2h-6.4ZM858.84 506h6.4v13h-6.4ZM881.88 500.4h6.4v51.2h-6.4ZM889.56 475h6.4v26h-6.4ZM904.92 466h6.4v12h-6.4ZM912.6 487h6.4v40.6h-6.4ZM920.28 482.4h6.4v5.6h-6.4ZM927.96 478h6.4v5h-6.4ZM951 486.4h6.4v3h-6.4ZM958.68 458h6.4v29h-6.4ZM981.72 543h6.4v2.6h-6.4ZM1020.12 583h6.4v36.6h-6.4ZM1035.48 568.4h6.4v40.6h-6.4ZM1043.16 548h6.4v21h-6.4ZM1073.88 577.6h6.4v20.4h-6.4ZM1089.24 625.4h6.4v2h-6.4ZM1096.92 592h6.4v34h-6.4ZM1104.6 568h6.4v25h-6.4ZM1112.28 521.3h6.4v47.7h-6.4ZM1127.64 553.3h6.4v1.4h-6.4ZM1143 569.6h6.4v37h-6.4ZM1158.36 525.6h6.4v51.4h-6.4ZM1166.04 525.3h6.4v1.4h-6.4ZM1173.72 521.6h6.4v5h-6.4ZM1189.08 526.8h6.4v29.2h-6.4ZM1204.44 549h6.4v12h-6.4ZM1235.16 641h6.4v32h-6.4ZM1258.2 654.4h6.4v17.2h-6.4ZM1265.88 642.4h6.4v13.2h-6.4ZM1281.24 640h6.4v17h-6.4ZM1288.92 638h6.4v2.4h-6.4ZM1304.28 641.3h6.4v5.1h-6.4ZM1327.32 661h6.4v18.6h-6.4ZM1335 624h6.4v38h-6.4ZM1350.36 636h6.4v9h-6.4ZM1358.04 609h6.4v28h-6.4ZM1365.72 593.6h6.4v16.4h-6.4ZM1434.84 699h6.4v6.6h-6.4Z" fill="#089981"/>
<path d="M21.72 353h6.4v25.6h-6.4ZM44.76 373h6.4v5h-6.4ZM75.48 341h6.4v4.6h-6.4ZM83.16 344.4h6.4v1.6h-6.4ZM121.56 169.6h6.4v50h-6.4ZM136.92 202.4h6.4v24.6h-6.4ZM159.96 127h6.4v37h-6.4ZM167.64 163h6.4v7.4h-6.4ZM190.68 109.6h6.4v30h-6.4ZM213.72 111h6.4v7.4h-6.4ZM229.08 112.4h6.4v40.6h-6.4ZM236.76 152h6.4v21h-6.4ZM259.8 142.4h6.4v18.6h-6.4ZM267.48 160.4h6.4v4.6h-6.4ZM275.16 164h6.4v17h-6.4ZM282.84 180h6.4v33h-6.4ZM290.52 212h6.4v43.6h-6.4ZM298.2 254.4h6.4v2.6h-6.4ZM305.88 256h6.4v6.4h-6.4ZM328.92 232h6.4v62h-6.4ZM336.6 293h6.4v16h-6.4ZM344.28 307.6h6.4v25.4h-6.4ZM375 314.4h6.4v36.6h-6.4ZM390.36 302h6.4v33h-6.4ZM398.04 334.4h6.4v7.2h-6.4ZM405.72 341h6.4v34.6h-6.4ZM421.08 365h6.4v4.6h-6.4ZM428.76 369h6.4v23h-6.4ZM436.44 391.6h6.4v74h-6.4ZM444.12 465h6.4v2.6h-6.4ZM474.84 402h6.4v11.6h-6.4ZM482.52 413h6.4v13h-6.4ZM505.56 391h6.4v12h-6.4ZM513.24 402h6.4v12h-6.4ZM520.92 412.4h6.4v14.6h-6.4ZM536.28 399.6h6.4v32.4h-6.4ZM543.96 431h6.4v10.6h-6.4ZM567 435.6h6.4v12.4h-6.4ZM574.68 447.6h6.4v12.4h-6.4ZM582.36 459.4h6.4v13h-6.4ZM613.08 400.4h6.4v11.6h-6.4ZM620.76 411.4h6.4v10.6h-6.4ZM628.44 420.6h6.4v13h-6.4ZM636.12 432.4h6.4v7.6h-6.4ZM643.8 439h6.4v14.6h-6.4ZM651.48 452.4h6.4v2h-6.4ZM666.84 442h6.4v48.6h-6.4ZM674.52 489.6h6.4v16.8h-6.4ZM682.2 527h6.4v4.6h-6.4ZM689.88 531.4h6.4v2.2h-6.4ZM720.6 480.4h6.4v11.6h-6.4ZM728.28 491.6h6.4v2.8h-6.4ZM735.96 494h6.4v18h-6.4ZM751.32 446h6.4v23h-6.4ZM766.68 436.5h6.4v29.9h-6.4ZM782.04 442h6.4v6h-6.4ZM805.08 424.4h6.4v33.2h-6.4ZM820.44 449h6.4v4.6h-6.4ZM828.12 452.4h6.4v29.2h-6.4ZM843.48 413h6.4v41.6h-6.4ZM851.16 453.6h6.4v65.4h-6.4ZM866.52 506h6.4v7h-6.4ZM874.2 512.4h6.4v39.2h-6.4ZM897.24 475h6.4v2h-6.4ZM935.64 478h6.4v4.4h-6.4ZM943.32 482h6.4v7.4h-6.4ZM966.36 458h6.4v49h-6.4ZM974.04 505.6h6.4v39.4h-6.4ZM989.4 543h6.4v50h-6.4ZM997.08 592h6.4v5h-6.4ZM1004.76 596h6.4v19.6h-6.4ZM1012.44 615h6.4v4.4h-6.4ZM1027.8 583h6.4v26h-6.4ZM1050.84 548h6.4v34h-6.4ZM1058.52 581.6h6.4v14h-6.4ZM1066.2 595h6.4v3.4h-6.4ZM1081.56 577.6h6.4v49.8h-6.4ZM1119.96 521.4h6.4v33h-6.4ZM1135.32 553.6h6.4v31.4h-6.4ZM1150.68 569.6h6.4v7.4h-6.4ZM1181.4 521.6h6.4v34.4h-6.4ZM1196.76 526.8h6.4v34.2h-6.4ZM1212.12 549h6.4v109h-6.4ZM1219.8 657h6.4v10.6h-6.4ZM1227.48 666.4h6.4v6.6h-6.4ZM1242.84 641h6.4v14.6h-6.4ZM1250.52 654.4h6.4v17.2h-6.4ZM1273.56 642.4h6.4v14h-6.4ZM1296.6 639h6.4v7.4h-6.4ZM1311.96 641h6.4v26.6h-6.4ZM1319.64 666h6.4v13.6h-6.4ZM1342.68 624h6.4v21h-6.4ZM1373.4 592h6.4v5h-6.4ZM1381.08 596h6.4v9h-6.4ZM1388.76 604h6.4v20h-6.4ZM1396.44 623h6.4v21h-6.4ZM1404.12 642.4h6.4v14h-6.4ZM1411.8 656h6.4v15.6h-6.4ZM1419.48 670.4h6.4v18.6h-6.4ZM1427.16 688h6.4v18.4h-6.4Z" fill="#f23645"/>
</g>
<line x1="18" y1="699" x2="1777" y2="699" stroke="#089981" stroke-width="1.6" stroke-dasharray="1.7 2.3" opacity=".62"/>
<rect x="808.4" y="402.5" width="1029.2" height="12" fill="rgba(242,54,69,.2)" stroke="#e8414f" stroke-width="1.2"/>
<line x1="209" y1="91" x2="1690.5" y2="700.2" stroke="#f23645" stroke-width="6.4"/>
<g fill="none" stroke="#000" stroke-width="6.7" stroke-linejoin="miter" stroke-miterlimit="10">
<path d="M1438 698L1522.3 581L1546.3 638.5L1703.2 406.4"/>
<path d="M1661 414L1703.2 406.2L1715.6 451" stroke-linejoin="round"/>
<path d="M1493 620L1644.4 879.8"/>
<path d="M1600.6 871L1644.4 879.8L1657.4 837" stroke-linejoin="round"/>
</g>
<g id="tvlogo" fill="#1e222d">
<path d="M17 962.4h12.7v15.6h-7.1v-9.9h-5.6Z"/>
<circle cx="35.8" cy="965.3" r="2.9"/>
<path d="M41.3 962.4h7.7l-5.5 15.6h-7.7Z"/>
</g>
<text x="269.3" y="884.3" text-anchor="middle" direction="rtl" font-family="'Liberation Sans','DejaVu Sans',sans-serif" font-weight="700" font-size="34" fill="#8583bd" stroke="#8583bd" stroke-width=".5" stroke-linejoin="round" textLength="457" lengthAdjust="spacingAndGlyphs">آرام چارتس / مرجع بازار های مالی</text>
</svg>
<div class="t" style="left:30.6px;top:13.56px;font-size:20.6px;color:#484848;transform:scaleX(0.9573);">New Zealand Dollar/Canadian Dollar, 4h, FXCM</div>
<div class="t" style="left:1885.6px;top:9.56px;font-size:20.6px;color:#363636;transform:scaleX(0.8187);">CAD</div>
<div class="t" style="left:1886.6px;top:82.92px;font-size:21px;color:#363636;transform:scaleX(0.926);">0.82500</div>
<div class="t" style="left:1886.6px;top:163.42px;font-size:21px;color:#363636;transform:scaleX(0.926);">0.82000</div>
<div class="t" style="left:1886.6px;top:243.92px;font-size:21px;color:#363636;transform:scaleX(0.926);">0.81500</div>
<div class="t" style="left:1886.6px;top:324.42px;font-size:21px;color:#363636;transform:scaleX(0.926);">0.81000</div>
<div class="t" style="left:1886.6px;top:404.92px;font-size:21px;color:#363636;transform:scaleX(0.926);">0.80500</div>
<div class="t" style="left:1886.6px;top:485.42px;font-size:21px;color:#363636;transform:scaleX(0.926);">0.80000</div>
<div class="t" style="left:1886.6px;top:565.92px;font-size:21px;color:#363636;transform:scaleX(0.926);">0.79500</div>
<div class="t" style="left:1886.6px;top:646.42px;font-size:21px;color:#363636;transform:scaleX(0.926);">0.79000</div>
<div class="t" style="left:1886.6px;top:726.92px;font-size:21px;color:#363636;transform:scaleX(0.926);">0.78500</div>
<div class="t" style="left:1886.6px;top:807.42px;font-size:21px;color:#363636;transform:scaleX(0.926);">0.78000</div>
<div class="t" style="left:222.06px;top:908.16px;font-size:20.6px;color:#363636;transform:scaleX(0.92);">15</div>
<div class="t" style="left:452.06px;top:908.16px;font-size:20.6px;color:#363636;transform:scaleX(0.92);">22</div>
<div class="t" style="left:683.06px;top:908.16px;font-size:20.6px;color:#363636;transform:scaleX(0.92);">29</div>
<div class="t" style="left:814.62px;top:908.16px;font-size:20.6px;color:#363636;font-weight:700;transform:scaleX(0.92);">Sep</div>
<div class="t" style="left:964.32px;top:908.16px;font-size:20.6px;color:#363636;transform:scaleX(0.92);">6</div>
<div class="t" style="left:1142.76px;top:908.16px;font-size:20.6px;color:#363636;transform:scaleX(0.92);">12</div>
<div class="t" style="left:1374.06px;top:908.16px;font-size:20.6px;color:#363636;transform:scaleX(0.92);">19</div>
<div class="t" style="left:1603.66px;top:908.16px;font-size:20.6px;color:#363636;transform:scaleX(0.92);">26</div>
<div class="t" style="left:1820.9px;top:908.16px;font-size:20.6px;color:#363636;font-weight:700;transform:scaleX(0.92);">Oct</div>
<div class="bx" style="left:1777px;top:685px;width:91.1px;height:27.5px;border-radius:3px 0 0 3px"></div>
<div class="bx" style="left:1869.6px;top:685px;width:105.4px;height:51.5px;border-radius:0 3px 3px 0"></div>
<div class="t" style="left:1786px;top:688.73px;font-size:20.4px;color:#e6f8f4;transform:scaleX(0.8403);">NZDCAD</div>
<div class="t" style="left:1886.6px;top:688.56px;font-size:20.6px;color:#e6f8f4;transform:scaleX(0.9294);">0.78743</div>
<div class="t" style="left:1886.6px;top:712.56px;font-size:20.6px;color:#e6f8f4;transform:scaleX(0.9604);">01:18:46</div>
<div class="t" style="left:56.2px;top:960.73px;font-size:20.4px;color:#3f434d;transform:scaleX(1.0292);">TradingView</div>
<div class="t" style="left:100.8px;top:801.17px;font-size:32.4px;color:#8583bd;font-weight:700;letter-spacing:1.3px;transform:scaleX(1.0071);-webkit-text-stroke:1px #8583bd;">WWW.RMCHARTS.IR</div>
</body></html>
